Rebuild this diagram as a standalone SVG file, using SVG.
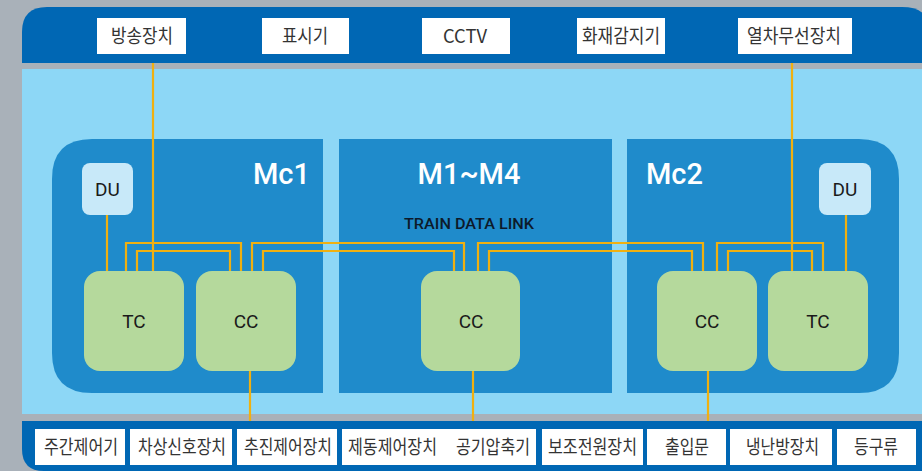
<svg xmlns="http://www.w3.org/2000/svg" width="922" height="471" viewBox="0 0 922 471">
<defs>
<style>
.lbl{fill:#ffffff}
.lt{font-family:"Noto Sans CJK KR","Noto Sans",sans-serif;font-size:19px;fill:#333333;text-anchor:middle}
.panel{fill:#1f8bcb}
.title{font-family:Roboto,"Liberation Sans",sans-serif;font-size:29px;font-weight:500;fill:#ffffff}
.node{fill:#b5d99c}
.du{fill:#c8e9f9}
.nt{font-family:Roboto,"Liberation Sans",sans-serif;font-size:19px;font-weight:400;fill:#1a1a1a;text-anchor:middle}
.wire{fill:none;stroke:#f0b010;stroke-width:2.2}
</style>
</defs>
<rect x="0" y="0" width="922" height="471" fill="#a9b1b9"/>
<!-- light blue body -->
<rect x="22" y="69" width="900" height="345" fill="#8dd7f6"/>
<!-- top bar -->
<path d="M22 63 V32 Q22 7 47 7 H902 Q922 7 928 20 V63 Z" fill="#0067b4"/>
<!-- bottom bar -->
<path d="M22 421 H922 V471 H44 Q22 471 22 449 Z" fill="#0067b4"/>

<!-- panels -->
<g id="panel-mc1">
<path class="panel" d="M92 139 H323 V393 H92 Q52 393 52 353 V179 Q52 139 92 139 Z"/>
<text class="title" x="253" y="184">Mc1</text>
</g>
<g id="panel-m1m4">
<rect class="panel" x="339" y="139" width="273" height="254"/>
<text class="title" x="469" y="184" text-anchor="middle">M1~M4</text>
<text x="469" y="229" text-anchor="middle" font-family="Roboto,'Liberation Sans',sans-serif" font-size="15" font-weight="500" fill="#0d1a2a" textLength="130" lengthAdjust="spacingAndGlyphs">TRAIN DATA LINK</text>
</g>
<g id="panel-mc2">
<path class="panel" d="M627 139 H859 Q899 139 899 179 V353 Q899 393 859 393 H627 Z"/>
<text class="title" x="646" y="184">Mc2</text>
</g>

<!-- connectors -->
<g id="connectors">
<path class="wire" d="M107 215 V271"/>
<path class="wire" d="M153 63 V271"/>
<path class="wire" d="M126 271 V243 H241 V271"/>
<path class="wire" d="M137 271 V251 H230 V271"/>
<path class="wire" d="M252 271 V243 H464 V271"/>
<path class="wire" d="M263 271 V251 H454 V271"/>
<path class="wire" d="M478 271 V243 H703 V271"/>
<path class="wire" d="M489 271 V251 H692 V271"/>
<path class="wire" d="M717 271 V243 H823 V271"/>
<path class="wire" d="M728 271 V251 H812 V271"/>
<path class="wire" d="M792 63 V271"/>
<path class="wire" d="M846 215 V271"/>
<path class="wire" d="M250 371 V421"/>
<path class="wire" d="M473 371 V421"/>
<path class="wire" d="M708 371 V421"/>
</g>

<!-- nodes -->
<g id="du1"><rect class="du" x="82" y="163" width="51" height="52" rx="8"/><text class="nt" x="107.5" y="196">DU</text></g>
<g id="tc1"><rect class="node" x="84" y="271" width="100" height="100" rx="16"/><text class="nt" x="134" y="328">TC</text></g>
<g id="cc1"><rect class="node" x="196" y="271" width="100" height="100" rx="16"/><text class="nt" x="246" y="328">CC</text></g>
<g id="cc-m"><rect class="node" x="421" y="271" width="99" height="100" rx="16"/><text class="nt" x="471" y="328">CC</text></g>
<g id="cc2"><rect class="node" x="657" y="271" width="100" height="100" rx="16"/><text class="nt" x="707" y="328">CC</text></g>
<g id="tc2"><rect class="node" x="768" y="271" width="100" height="100" rx="16"/><text class="nt" x="818" y="328">TC</text></g>
<g id="du2"><rect class="du" x="819" y="163" width="52" height="52" rx="8"/><text class="nt" x="845" y="196">DU</text></g>

<!-- top labels -->
<g id="top-broadcast"><rect class="lbl" x="97" y="18" width="89" height="36"/><text class="lt" x="142" y="43" textLength="62" lengthAdjust="spacingAndGlyphs">방송장치</text></g>
<g id="top-display"><rect class="lbl" x="262" y="18" width="87" height="36"/><text class="lt" x="305" y="43" textLength="46" lengthAdjust="spacingAndGlyphs">표시기</text></g>
<g id="top-cctv"><rect class="lbl" x="422" y="18" width="88" height="36"/><text class="lt" x="465" y="43" font-family="Roboto,'Liberation Sans',sans-serif" font-size="19" textLength="44" lengthAdjust="spacingAndGlyphs">CCTV</text></g>
<g id="top-fire"><rect class="lbl" x="577" y="18" width="88" height="36"/><text class="lt" x="621" y="43" textLength="78" lengthAdjust="spacingAndGlyphs">화재감지기</text></g>
<g id="top-radio"><rect class="lbl" x="738" y="18" width="114" height="36"/><text class="lt" x="794" y="43" textLength="94" lengthAdjust="spacingAndGlyphs">열차무선장치</text></g>

<!-- bottom labels -->
<g id="b1"><rect class="lbl" x="35" y="429" width="90" height="36"/><text class="lt" x="81" y="454" textLength="74" lengthAdjust="spacingAndGlyphs">주간제어기</text></g>
<g id="b2"><rect class="lbl" x="130" y="429" width="102" height="36"/><text class="lt" x="182" y="454" textLength="88" lengthAdjust="spacingAndGlyphs">차상신호장치</text></g>
<g id="b3"><rect class="lbl" x="237" y="429" width="100" height="36"/><text class="lt" x="288" y="454" textLength="88" lengthAdjust="spacingAndGlyphs">추진제어장치</text></g>
<g id="b4"><rect class="lbl" x="342" y="429" width="194" height="36"/><text class="lt" x="392.5" y="454" textLength="89" lengthAdjust="spacingAndGlyphs">제동제어장치</text><text class="lt" x="493" y="454" textLength="74" lengthAdjust="spacingAndGlyphs">공기압축기</text></g>
<g id="b5"><rect class="lbl" x="542" y="429" width="101" height="36"/><text class="lt" x="592.5" y="454" textLength="89" lengthAdjust="spacingAndGlyphs">보조전원장치</text></g>
<g id="b6"><rect class="lbl" x="647" y="429" width="79" height="36"/><text class="lt" x="687" y="454" textLength="44" lengthAdjust="spacingAndGlyphs">출입문</text></g>
<g id="b7"><rect class="lbl" x="730" y="429" width="102" height="36"/><text class="lt" x="782.5" y="454" textLength="73" lengthAdjust="spacingAndGlyphs">냉난방장치</text></g>
<g id="b8"><rect class="lbl" x="837" y="429" width="79" height="36"/><text class="lt" x="876" y="454" textLength="44" lengthAdjust="spacingAndGlyphs">등구류</text></g>
</svg>
